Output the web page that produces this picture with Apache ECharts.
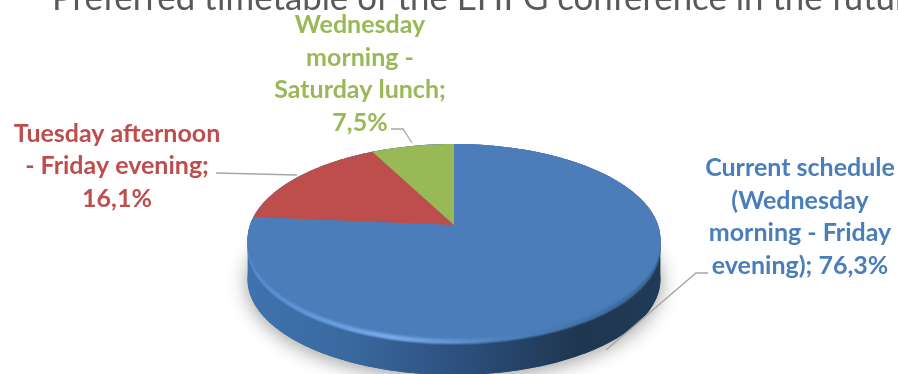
<!DOCTYPE html>
<html><head><meta charset="utf-8">
<style>html,body{margin:0;padding:0;background:#fff}#c{width:898px;height:374px}</style>
<script src="https://cdn.jsdelivr.net/npm/echarts@6/dist/echarts.min.js"></script>
</head><body><div id="c"></div>
<script>
const titleText = 'Preferred timetable of the EHFG conference in the future';
const categories = ['Current schedule (Wednesday morning - Friday evening)', 'Tuesday afternoon - Friday evening', 'Wednesday morning - Saturday lunch'];
const values = [76.3, 16.1, 7.5];
const colors = ['#4c7dba', '#bd4e4b', '#99b956'];
const labelLines = [
  ['Current schedule', '(Wednesday', 'morning - Friday', 'evening); 76,3%'],
  ['Tuesday afternoon', '- Friday evening;', '16,1%'],
  ['Wednesday', 'morning -', 'Saturday lunch;', '7,5%']
];
const labelAnchors = [[800, 217], [117, 166], [360, 74]];
const leaders = [
  [[708, 273], [696, 273], [606, 350]],
  [[216, 173], [297, 175]],
  [[391, 129], [403, 129], [412, 143]]
];

// tilted-disc projection of the pie
const cx = 454, cy = 225, R = 204, A = 93.3, K = 0.152, DEPTH = 40;
function proj(theta, dy) {
  const u = Math.sin(theta), v = Math.cos(theta), d = 1 + K * v;
  return [cx + R * u / d, cy - A * v / d + (dy || 0)];
}
function arc(a0, a1, dy) {
  const n = Math.max(2, Math.ceil(Math.abs(a1 - a0) * 40)), pts = [];
  for (let i = 0; i <= n; i++) pts.push(proj(a0 + (a1 - a0) * i / n, dy));
  return pts;
}
const total = values.reduce((a, b) => a + b, 0);
const TAU = Math.PI * 2;
const grad = (stops) => ({ type: 'linear', x: 0, y: 0, x2: 1, y2: 0, colorStops: stops });

function renderItem(params, api) {
  const i = params.dataIndex;
  let before = 0;
  for (let j = 0; j < i; j++) before += values[j];
  const a0 = before / total * TAU, a1 = (before + api.value(0)) / total * TAU;
  const children = [];
  if (i === 0) {
    const EX = Math.PI / 2 + 0.15;
    children.push({ type: 'polygon', shape: { points: arc(0, TAU, DEPTH) }, style: {
      fill: '#2a4c78', shadowBlur: 20, shadowColor: 'rgba(0,0,0,0.4)', shadowOffsetY: 3 } });
    children.push({ type: 'polygon', shape: { points: arc(-EX, EX, 0).concat(arc(EX, TAU - EX, DEPTH)) }, style: {
      fill: grad([{ offset: 0, color: '#3f72ae' }, { offset: 0.25, color: '#3a699f' }, { offset: 0.55, color: '#2a4c78' }, { offset: 0.8, color: '#1f3650' }, { offset: 1, color: '#213a57' }]) } });
    // soft bevel: layers fading from the wall into the top face
    const bevelFill = grad([{ offset: 0, color: '#5189cc' }, { offset: 0.35, color: '#76aaeb' }, { offset: 0.6, color: '#4f82bf' }, { offset: 1, color: '#3a6695' }]);
    const layers = [[10, bevelFill, 0.3], [9, bevelFill, 0.6], [8, bevelFill, 1], [7, bevelFill, 1], [6, bevelFill, 1],
                    [5, colors[0], 0.35], [4, colors[0], 0.5], [3, colors[0], 0.7], [2, colors[0], 0.85], [1, colors[0], 1]];
    layers.forEach(([d, fill, opacity]) => {
      children.push({ type: 'polygon', shape: { points: arc(0, TAU, d) }, style: { fill, opacity } });
    });
    children.push({ type: 'polygon', shape: { points: arc(0, TAU, 0) }, style: { fill: colors[0] } });
  }
  const pts = [[cx, cy]].concat(arc(a0, a1, 0));
  children.push({ type: 'polygon', shape: { points: pts }, style: { fill: colors[i] } });
  children.push({ type: 'polyline', shape: { points: leaders[i] }, style: { fill: null, stroke: '#a6a6a6', lineWidth: 1.3 } });
  children.push({ type: 'text', style: {
    x: labelAnchors[i][0], y: labelAnchors[i][1], text: labelLines[i].join('\n'),
    align: 'center', verticalAlign: 'middle', fill: colors[i] === '#4c7dba' ? '#4a7ebb' : colors[i],
    font: 'bold 25px Lato, "Open Sans", sans-serif', lineHeight: 32.5 } });
  return { type: 'group', children };
}

const chart = echarts.init(document.getElementById('c'), null, { renderer: 'canvas' });
chart.setOption({
  animation: false,
  backgroundColor: '#ffffff',
  title: { text: titleText, left: 47, top: -24,
    textStyle: { color: '#595959', fontFamily: 'Lato, "Open Sans", sans-serif', fontWeight: 'normal', fontSize: 34.8 } },
  series: [{
    type: 'custom', coordinateSystem: 'none', clip: false,
    renderItem,
    data: values.map((v, i) => ({ name: categories[i], value: [v] }))
  }]
});
</script></body></html>
